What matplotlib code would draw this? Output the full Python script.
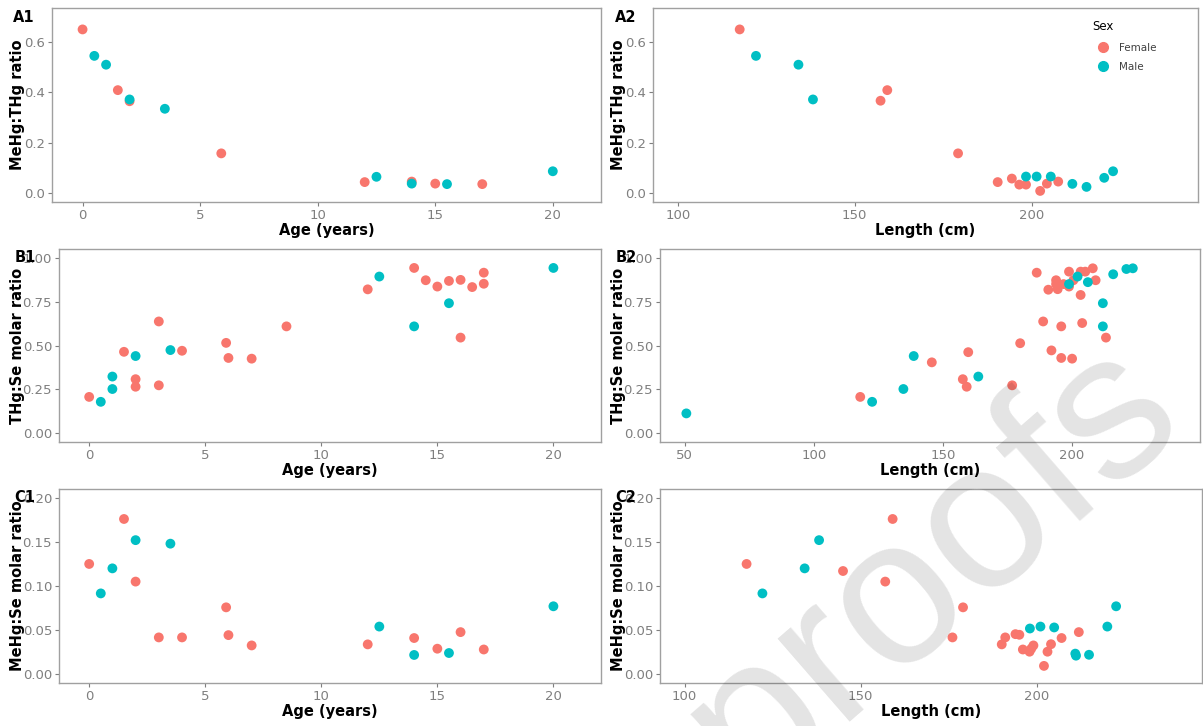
import matplotlib
matplotlib.use("Agg")
import matplotlib.pyplot as plt
from matplotlib.lines import Line2D

# === datos ===
# A1: MeHg:THg vs edad
a1_age_f = [0, 1.5, 2, 5.9, 12, 14, 15, 17]
a1_val_f = [0.65, 0.409, 0.365, 0.158, 0.044, 0.046, 0.038, 0.036]
a1_age_m = [0.5, 1, 2, 3.5, 12.5, 14, 15.5, 20]
a1_val_m = [0.545, 0.51, 0.372, 0.335, 0.065, 0.038, 0.036, 0.087]

# A2: MeHg:THg vs longitud
a2_len_f = [117.5, 157.3, 159.2, 179.2, 190.4, 194.4, 196.5, 198.4, 202.4, 204.3, 207.5]
a2_val_f = [0.65, 0.367, 0.409, 0.158, 0.044, 0.058, 0.034, 0.034, 0.009, 0.038, 0.046]
a2_len_m = [122.1, 134.1, 138.2, 198.4, 201.4, 205.4, 211.5, 215.5, 220.5, 223.0]
a2_val_m = [0.545, 0.51, 0.372, 0.066, 0.066, 0.066, 0.037, 0.025, 0.061, 0.087]

# B1: THg:Se vs edad
b1_age_f = [0, 1.5, 2, 2, 3, 3, 4, 5.9, 6, 7, 8.5, 12, 14, 14.5, 15, 15.5, 16, 16, 16.5, 17, 17]
b1_val_f = [0.207, 0.464, 0.308, 0.265, 0.637, 0.273, 0.47, 0.515, 0.429, 0.425, 0.609,
            0.82, 0.942, 0.872, 0.836, 0.868, 0.874, 0.545, 0.833, 0.915, 0.852]
b1_age_m = [0.5, 1, 1, 2, 3.5, 12.5, 14, 15.5, 20]
b1_val_m = [0.179, 0.323, 0.252, 0.44, 0.474, 0.893, 0.609, 0.741, 0.942]

# B2: THg:Se vs longitud
b2_len_f = [118.0, 145.7, 157.7, 159.2, 159.8, 176.8, 179.9, 186.3, 188.8, 190.8, 192.0,
            193.8, 193.8, 194.4, 195.8, 195.8, 196.7, 198.8, 198.8, 200.0, 200.5, 203.3,
            203.3, 203.9, 205.1, 208.0, 209.1, 213.1]
b2_val_f = [0.207, 0.404, 0.308, 0.265, 0.462, 0.273, 0.513, 0.915, 0.637, 0.818, 0.472,
            0.872, 0.85, 0.821, 0.609, 0.429, 0.85, 0.921, 0.836, 0.425, 0.872, 0.788,
            0.921, 0.628, 0.921, 0.94, 0.872, 0.545]
b2_len_m = [50.7, 122.6, 134.7, 138.7, 163.7, 198.8, 202.1, 206.1, 211.9, 211.9, 215.9, 221.0, 223.5]
b2_val_m = [0.113, 0.179, 0.252, 0.44, 0.323, 0.85, 0.893, 0.861, 0.741, 0.609, 0.906, 0.936, 0.94]

# C1: MeHg:Se vs edad
c1_age_f = [0, 1.5, 2, 3, 4, 5.9, 6, 7, 12, 14, 15, 16, 17]
c1_val_f = [0.125, 0.176, 0.105, 0.0417, 0.0417, 0.0758, 0.0443, 0.0326, 0.0338, 0.041,
            0.0289, 0.0477, 0.028]
c1_age_m = [0.5, 1, 2, 3.5, 12.5, 14, 15.5, 20]
c1_val_m = [0.0916, 0.120, 0.152, 0.148, 0.054, 0.0218, 0.024, 0.077]

# C2: MeHg:Se vs longitud
c2_len_f = [117.6, 145.0, 157.0, 159.1, 176.1, 179.1, 190.1, 191.1, 194.0, 195.1, 196.1,
            198.0, 198.5, 199.1, 202.1, 203.1, 204.1, 207.1, 212.0]
c2_val_f = [0.125, 0.117, 0.105, 0.176, 0.0417, 0.0758, 0.0338, 0.0417, 0.0454, 0.0447,
            0.028, 0.0255, 0.029, 0.0326, 0.0094, 0.0255, 0.034, 0.041, 0.0477]
c2_len_m = [122.1, 134.1, 138.2, 198.1, 201.1, 205.0, 211.0, 211.2, 214.9, 220.1, 222.6]
c2_val_m = [0.0916, 0.120, 0.152, 0.0518, 0.054, 0.053, 0.0233, 0.021, 0.022, 0.054, 0.077]

# === estilo ===
F_COL = '#F8766D'
M_COL = '#00BFC4'
W, H = 1203, 726
BORDER = '#a0a0a0'
TICKCOL = '#7f7f7f'

fig = plt.figure(figsize=(W / 100, H / 100), dpi=100)


def panel(left, top, right, bottom, xf, yf, xm, ym, xlim, ylim, xticks, yticks, yfmt,
          xlabel, ylabel, tag, ylab_x, tag_x):
    ax = fig.add_axes([left / W, 1 - bottom / H, (right - left) / W, (bottom - top) / H])
    ax.scatter(xf, yf, s=50, color=F_COL, edgecolors='none', zorder=3)
    ax.scatter(xm, ym, s=50, color=M_COL, edgecolors='none', zorder=3)
    ax.set_xlim(*xlim)
    ax.set_ylim(*ylim)
    ax.set_xticks(xticks)
    ax.set_yticks(yticks)
    ax.set_yticklabels([yfmt.format(v) for v in yticks])
    for s in ax.spines.values():
        s.set_color(BORDER)
        s.set_linewidth(1.0)
    ax.tick_params(length=3, width=0.8, color=TICKCOL, labelcolor=TICKCOL,
                   labelsize=9.5, pad=2)
    ax.set_xlabel(xlabel, fontsize=10.5, fontweight='bold', labelpad=1)
    fig.text(ylab_x / W, 1 - (top + bottom) / 2 / H, ylabel, rotation=90,
             fontsize=10.5, fontweight='bold', ha='center', va='center')
    fig.text(tag_x / W, 1 - (top + 9) / H, tag, fontsize=10.5, fontweight='bold',
             ha='center', va='center')
    return ax


ax_a1 = panel(52, 8, 601, 202, a1_age_f, a1_val_f, a1_age_m, a1_val_m,
              (-1.3, 22.05), (-0.035, 0.735), [0, 5, 10, 15, 20], [0, 0.2, 0.4, 0.6],
              '{:.1f}', 'Age (years)', 'MeHg:THg ratio', 'A1', 18, 24)
ax_a2 = panel(653, 8, 1198, 202, a2_len_f, a2_val_f, a2_len_m, a2_val_m,
              (93, 247), (-0.035, 0.735), [100, 150, 200], [0, 0.2, 0.4, 0.6],
              '{:.1f}', 'Length (cm)', 'MeHg:THg ratio', 'A2', 618, 626)
ax_b1 = panel(59, 249, 601, 442, b1_age_f, b1_val_f, b1_age_m, b1_val_m,
              (-1.3, 22.05), (-0.05, 1.05), [0, 5, 10, 15, 20], [0, 0.25, 0.5, 0.75, 1.0],
              '{:.2f}', 'Age (years)', 'THg:Se molar ratio', 'B1', 18, 25)
ax_b2 = panel(660, 249, 1200, 442, b2_len_f, b2_val_f, b2_len_m, b2_val_m,
              (40.5, 249.5), (-0.05, 1.05), [50, 100, 150, 200], [0, 0.25, 0.5, 0.75, 1.0],
              '{:.2f}', 'Length (cm)', 'THg:Se molar ratio', 'B2', 618, 626)
ax_c1 = panel(59, 489, 601, 683, c1_age_f, c1_val_f, c1_age_m, c1_val_m,
              (-1.3, 22.05), (-0.01, 0.21), [0, 5, 10, 15, 20], [0, 0.05, 0.1, 0.15, 0.2],
              '{:.2f}', 'Age (years)', 'MeHg:Se molar ratio', 'C1', 18, 25)
ax_c2 = panel(660, 489, 1202, 683, c2_len_f, c2_val_f, c2_len_m, c2_val_m,
              (93, 247), (-0.01, 0.21), [100, 150, 200], [0, 0.05, 0.1, 0.15, 0.2],
              '{:.2f}', 'Length (cm)', 'MeHg:Se molar ratio', 'C2', 618, 626)

# === leyenda (dentro de A2) ===
handles = [Line2D([], [], marker='o', ls='none', color=F_COL, markersize=7, label='Female'),
           Line2D([], [], marker='o', ls='none', color=M_COL, markersize=7, label='Male')]
leg = ax_a2.legend(handles=handles, title='Sex', loc='upper left',
                   bbox_to_anchor=(1088 / W, 1 - 16 / H), bbox_transform=fig.transFigure,
                   frameon=False, fontsize=7.5, title_fontsize=8.5, alignment='left',
                   handletextpad=0.6, labelspacing=0.9, borderaxespad=0)
for t in leg.get_texts():
    t.set_color('#404040')

# === marca de agua "proofs" ===
fig.text(933 / W, 1 - 567 / H, 'proofs', fontsize=150, family='Liberation Sans',
         rotation=41, rotation_mode='anchor', color='black', alpha=0.11,
         ha='center', va='center', zorder=10)

fig.savefig('out.png', dpi=100)
